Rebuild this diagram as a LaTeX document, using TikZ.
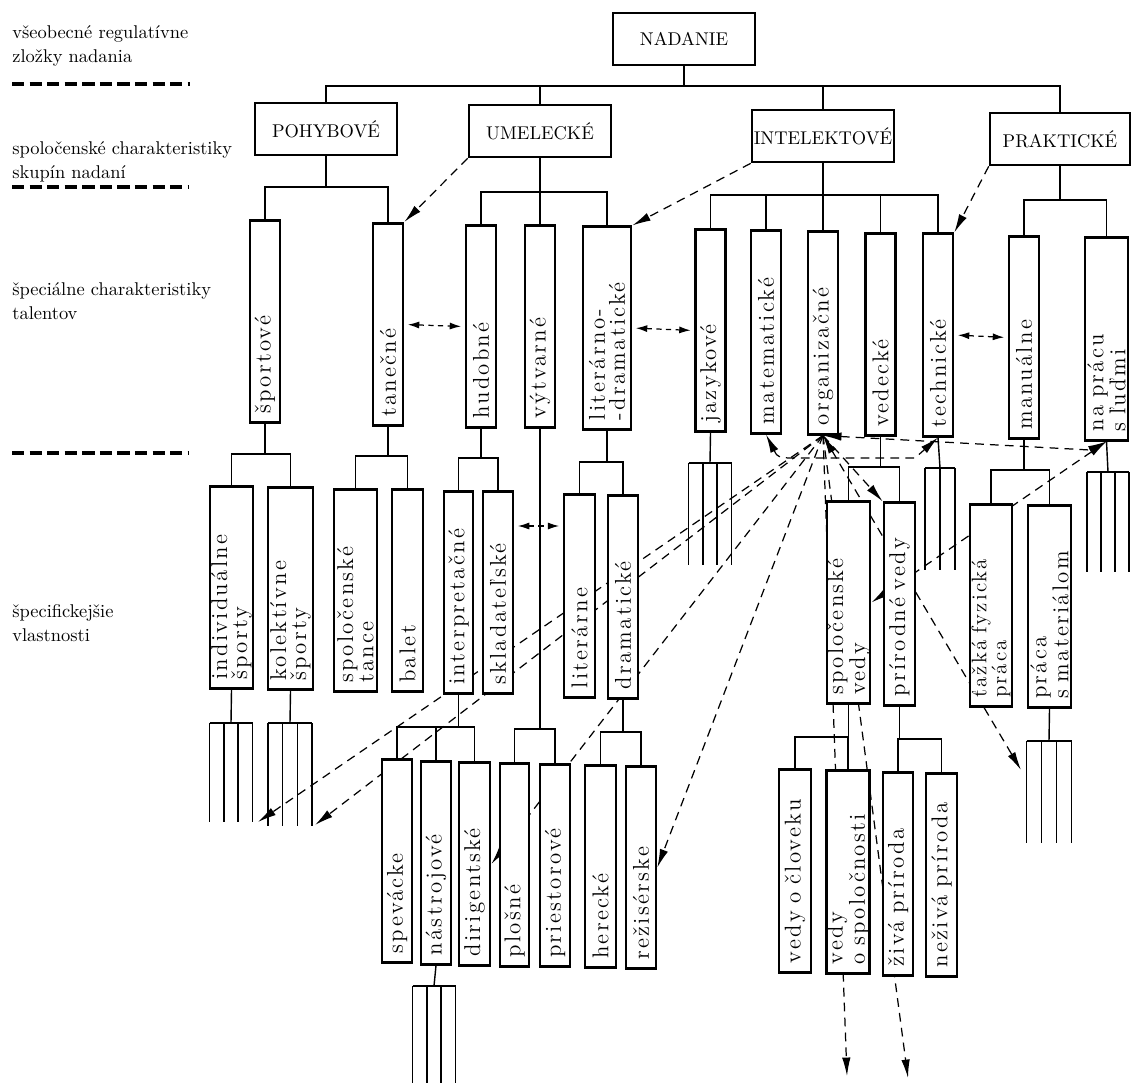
\documentclass[tikz,border=0pt]{standalone}
\usepackage{fontspec}
\newfontfamily\spacedfont{lmroman12-regular.otf}[LetterSpace=10]
\usetikzlibrary{arrows.meta}
\pgfdeclarelayer{back}
\pgfsetlayers{back,main}
\newcommand{\Spaced}{\spacedfont\fontsize{13}{11.5}\selectfont}
\tikzstyle{Box}=[draw,line width=1.5pt,fill=white,minimum width=2.84cm,
  minimum height=1.04cm,inner sep=0pt,font=\fontsize{10.5}{12}\selectfont]
\tikzset{Tall/.style={draw,line width=1.5pt,fill=white,rotate=90,
  minimum height=#1,minimum width=4.05cm,text width=3.69cm,
  inner xsep=0.18cm,inner ysep=0pt,align=left,font=\Spaced},
  Tall/.default=0.6cm}
\tikzstyle{Link}=[line width=0.8pt]
\tikzstyle{Rel}=[dash pattern=on 5pt off 3.5pt,line width=0.7pt]
\tikzstyle{Both}=[dash pattern=on 3pt off 2.5pt,line width=0.7pt,
  {Latex[length=6.5pt,width=4pt]}-{Latex[length=6.5pt,width=4pt]},
  shorten <=2pt,shorten >=2pt]
\tikzstyle{Sep}=[dash pattern=on 7pt off 3pt,line width=2pt]
\tikzstyle{Lbl}=[anchor=west,align=left,inner sep=0pt,
  font=\fontsize{10.5}{14}\selectfont]
% rake of free ends below a box
\newcommand{\Rake}[6]{%
  \coordinate (#1) at (#2,#3);
  \draw[line width=1.5pt] (#2-#6,#3) -- (#2+#6,#3);
  \foreach \k in {1,...,#5}
    \draw[Link] ({#2-#6+2*#6*(\k-1)/(#5-1)},#3)
      -- ({#2-#6+2*#6*(\k-1)/(#5-1)},#4);
}

\begin{document}
\begin{tikzpicture}[x=0.02cm,y=-0.02cm,>={Latex[length=10.5pt,width=4.8pt]}]
  \useasboundingbox (0,0) rectangle (1132,1086);
  % levels at the left
  \node[Lbl] (l1) at (12,46) {všeobecné regulatívne\\zložky nadania};
  \node[Lbl] (l2) at (12,162) {spoločenské charakteristiky\\skupín nadaní};
  \node[Lbl] (l3) at (12,301) {špeciálne charakteristiky\\talentov};
  \node[Lbl] (l4) at (12,623) {špecifickejšie\\vlastnosti};
  \draw[Sep] (12,84) -- (190,84);
  \draw[Sep] (12,187) -- (188,187);
  \draw[Sep] (12,453) -- (188,453);
  % groups
  \node[Box] (nad) at (684,39) {NADANIE};
  \node[Box] (poh) at (326,129) {POHYBOVÉ};
  \node[Box] (ume) at (540,131) {UMELECKÉ};
  \node[Box] (int) at (823,136) {INTELEKTOVÉ};
  \node[Box,minimum width=2.8cm] (pra) at (1060,139) {PRAKTICKÉ};
  % talents
  \node[Tall] (sport) at (265,321.5) {športové};
  \node[Tall] (tanec) at (388,324.5) {tanečné};
  \node[Tall] (hudob) at (481,326.5) {hudobné};
  \node[Tall] (vytv) at (540,326.5) {výtvarné};
  \node[Tall=0.96cm] (litdr) at (607,328) {literárno-\\-dramatické};
  \node[Tall] (jazyk) at (710.5,330.5) {jazykové};
  \node[Tall] (matem) at (766,332) {matematické};
  \node[Tall] (organ) at (823,333) {organizačné};
  \node[Tall] (vedec) at (880.5,334.5) {vedecké};
  \node[Tall] (techn) at (938,335) {technické};
  \node[Tall] (manua) at (1024,337.5) {manuálne};
  \node[Tall=0.86cm] (ludmi) at (1106.5,339) {na prácu\\s ľuďmi};
  % specific properties
  \node[Tall=0.86cm] (indiv) at (231.5,587.5) {individuálne\\športy};
  \node[Tall=0.9cm] (kolek) at (290.5,588.5) {kolektívne\\športy};
  \node[Tall=0.86cm] (spolt) at (355.5,590.5) {spoločenské\\tance};
  \node[Tall=0.62cm] (balet) at (407.5,590.5) {balet};
  \node[Tall=0.58cm] (interp) at (458.5,592.5) {interpretačné};
  \node[Tall] (sklad) at (498,592.5) {skladateľské};
  \node[Tall=0.62cm] (liter) at (579.5,596) {literárne};
  \node[Tall] (drama) at (623,597) {dramatické};
  \node[Tall=0.86cm] (spolv) at (848.5,602.5) {spoločenské\\vedy};
  \node[Tall=0.62cm] (prirv) at (899.5,604) {prírodné vedy};
  \node[Tall=0.84cm,font=\spacedfont\fontsize{12}{11.5}\selectfont]
    (tazka) at (991,605.5) {ťažká fyzická\\práca};
  \node[Tall=0.86cm] (praca) at (1049.5,606.5) {práca\\s materiálom};
  \node[Tall] (spev) at (397,861) {spevácke};
  \node[Tall] (nastr) at (436,863) {nástrojové};
  \node[Tall=0.62cm] (dirig) at (474.5,864) {dirigentské};
  \node[Tall=0.58cm] (plos) at (514.5,865) {plošné};
  \node[Tall] (pries) at (555,865.5) {priestorové};
  \node[Tall=0.62cm] (here) at (600.5,866.5) {herecké};
  \node[Tall] (rezi) at (641,867.5) {režisérske};
  \node[Tall=0.64cm] (vclov) at (795,871) {vedy o človeku};
  \node[Tall=0.86cm] (vspol) at (848,872) {vedy\\o spoločnosti};
  \node[Tall] (ziva) at (898,874) {živá príroda};
  \node[Tall=0.62cm] (neziv) at (941.5,875) {neživá príroda};
  % tree
  \coordinate (t0) at (684,86);
  \draw[Link] (nad.south) -- (t0);
  \draw[Link] (poh.north) |- (t0) -| (pra.north);
  \draw[Link] (ume.north) -- (ume.north |- t0);
  \draw[Link] (int.north) -- (int.north |- t0);
  \coordinate (t1) at (326,187);
  \draw[Link] (poh.south) -- (t1);
  \draw[Link] (sport.east) |- (t1) -| (tanec.east);
  \coordinate (t2) at (540,192);
  \draw[Link] (ume.south) -- (vytv.east);
  \draw[Link] (hudob.east) |- (t2) -| (litdr.east);
  \coordinate (t3) at (823,195);
  \draw[Link] (int.south) -- (t3);
  \draw[Link] (jazyk.east) |- (t3) -| (techn.east);
  \foreach \n in {matem,organ,vedec}
    \draw[Link] (\n.east) -- (\n.east |- t3);
  \coordinate (t4) at (1060,200);
  \draw[Link] (pra.south) -- (t4);
  \draw[Link] (manua.east) |- (t4) -| (ludmi.east);
  \coordinate (t5) at (265,454);
  \draw[Link] (sport.west) -- (t5);
  \draw[Link] (indiv.east) |- (t5) -| (kolek.east);
  \coordinate (t6) at (388,456);
  \draw[Link] (tanec.west) -- (t6);
  \draw[Link] (spolt.east) |- (t6) -| (balet.east);
  \coordinate (t7) at (481,458);
  \draw[Link] (hudob.west) -- (t7);
  \draw[Link] (interp.east) |- (t7) -| (sklad.east);
  \coordinate (t8) at (540,729);
  \draw[Link] (vytv.west) -- (t8);
  \draw[Link] (plos.east) |- (t8) -| (pries.east);
  \coordinate (t9) at (607,462);
  \draw[Link] (litdr.west) -- (t9);
  \draw[Link] (liter.east) |- (t9) -| (drama.east);
  \coordinate (t10) at (880.5,467);
  \draw[Link] (vedec.west) -- (t10);
  \draw[Link] (spolv.east) |- (t10) -| (prirv.east);
  \coordinate (t11) at (1024,470);
  \draw[Link] (manua.west) -- (t11);
  \draw[Link] (tazka.east) |- (t11) -| (praca.east);
  \coordinate (t12) at (458.5,727);
  \draw[Link] (interp.west) -- (t12);
  \draw[Link] (spev.east) |- (t12) -| (dirig.east);
  \draw[Link] (nastr.east) -- (nastr.east |- t12);
  \coordinate (t13) at (623,732);
  \draw[Link] (drama.west) -- (t13);
  \draw[Link] (here.east) |- (t13) -| (rezi.east);
  \coordinate (t14) at (848.5,737);
  \draw[Link] (spolv.west) -- (t14);
  \draw[Link] (vclov.east) |- (t14) -| (vspol.east);
  \coordinate (t15) at (899.5,739);
  \draw[Link] (prirv.west) -- (t15);
  \draw[Link] (ziva.east) |- (t15) -| (neziv.east);
  % open ends
  \Rake{f1}{231}{723}{822}{4}{21.5}
  \Rake{f2}{290}{723}{826}{4}{22}
  \Rake{f3}{710}{463}{565}{4}{21.5}
  \Rake{f4}{940}{468}{570}{3}{15}
  \Rake{f5}{1108}{472}{572}{4}{21}
  \Rake{f6}{434}{986}{1083}{4}{21.5}
  \Rake{f7}{1049}{741}{843}{4}{22.5}
  \draw[Link] (indiv.west) -- (f1);
  \draw[Link] (kolek.west) -- (f2);
  \draw[Link] (jazyk.west) -- (f3);
  \draw[Link] (techn.west) -- (f4);
  \draw[Link] (ludmi.west) -- (f5);
  \draw[Link] (nastr.west) -- (f6);
  \draw[Link] (praca.west) -- (f7);
  % relations
  \coordinate (a1) at (258,822);
  \coordinate (a2) at (315,825);
  \coordinate (a5) at (847,1076);
  \coordinate (a6) at (908,1078);
  \coordinate (a7) at (1021,770);
  \begin{pgfonlayer}{back}
    \draw[Rel,->] (ume.south west) -- (tanec.south east);
    \draw[Rel,->] (int.south west) -- (litdr.south east);
    \draw[Rel,->] (pra.south west) -- (techn.south east);
    \draw[Both] (tanec.south) -- (hudob.north);
    \draw[Both] (litdr.south) -- (jazyk.north);
    \draw[Both] (techn.south) -- (manua.north);
    \draw[Both] (sklad.south |- 0,526) -- (liter.north |- 0,526);
    \draw[Rel,->] (organ.west) -- (a1);
    \draw[Rel,->] (organ.west) -- (a2);
    \draw[Rel,->] (organ.west) -- (dirig.south);
    \draw[Rel,->] (organ.west) -- (rezi.south);
    \draw[Rel,->] (organ.west) -- (a5);
    \draw[Rel,->] (organ.west) -- (a6);
    \draw[Rel,<->] (organ.west) -- (a7);
    \draw[Rel,->] (organ.west) -- (prirv.north east);
    \draw[Rel,<->] (matem.west) .. controls (778,458) .. (800,458)
      -- (915,458) -- (techn.west);
    \draw[Rel,<->] (organ.west) -- (1090,450) -- (ludmi.west);
    \draw[Rel,<->] (ludmi.west) -- (spolv.south);
  \end{pgfonlayer}
\end{tikzpicture}
\end{document}
